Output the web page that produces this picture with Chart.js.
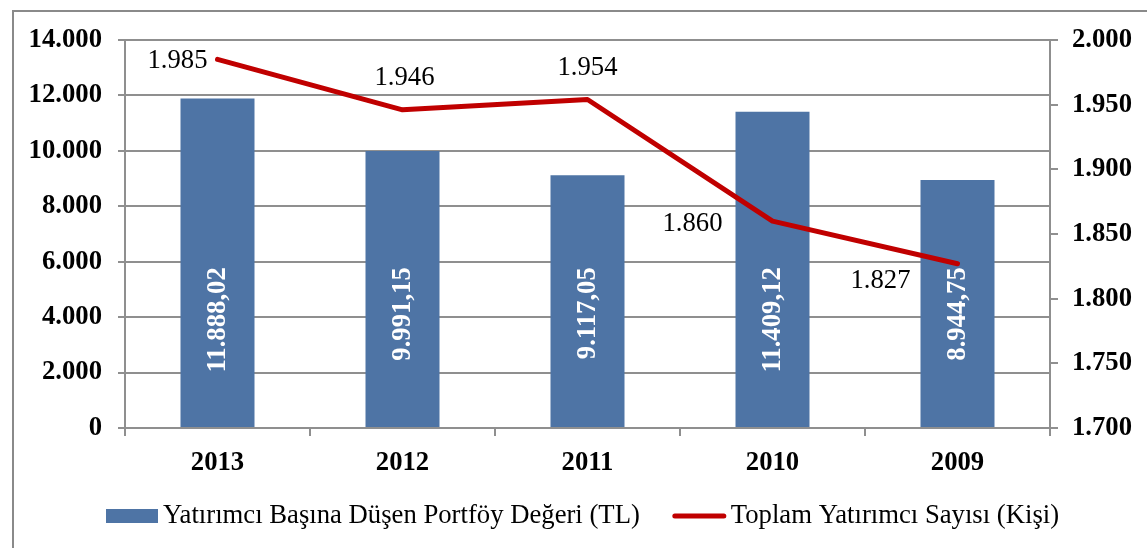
<!DOCTYPE html>
<html>
<head>
<meta charset="utf-8">
<script src="https://cdn.jsdelivr.net/npm/chart.js@4.4.1/dist/chart.umd.min.js"></script>
<style>
  html, body { margin: 0; padding: 0; background: #fff; }
  #wrap { width: 1147px; height: 548px; position: relative; }
</style>
</head>
<body>
<div id="wrap"><canvas id="c"></canvas></div>
<script>
// ---- data ----
const categories = ['2013', '2012', '2011', '2010', '2009'];
const portfolioValues = [11888.02, 9991.15, 9117.05, 11409.12, 8944.75];
const investorCounts = [1985, 1946, 1954, 1860, 1827];
const portfolioLabel = 'Yatırımcı Başına Düşen Portföy Değeri (TL)';
const investorLabel = 'Toplam Yatırımcı Sayısı (Kişi)';
const leftTicks = [0, 2000, 4000, 6000, 8000, 10000, 12000, 14000];
const rightTicks = [1700, 1750, 1800, 1850, 1900, 1950, 2000];

// label placement for the line values (dx, dy, align)
const lineLabelPlacement = [
  { dx: -10, dy: 2, align: 'right' },
  { dx: 2, dy: -32, align: 'center' },
  { dx: 0, dy: -32, align: 'center' },
  { dx: -50, dy: 3, align: 'right' },
  { dx: -47, dy: 17, align: 'right' }
];

const FONT = '"Liberation Serif", "Times New Roman", serif';
const FS = 26.7;
const BAR_COLOR = '#4E74A5';
const LINE_COLOR = '#C00000';
const GRID = '#8f8f8f';

function fmtThousands(v) {
  const s = String(Math.round(v));
  return s.replace(/\B(?=(\d{3})+(?!\d))/g, '.');
}
function fmtDecimal(v) {
  const parts = v.toFixed(2).split('.');
  return fmtThousands(Number(parts[0])) + ',' + parts[1];
}

const labelsPlugin = {
  id: 'customLabels',
  beforeDraw(chart) {
    const ctx = chart.ctx;
    ctx.save();
    ctx.fillStyle = '#fff';
    ctx.fillRect(0, 0, chart.width, chart.height);
    ctx.strokeStyle = '#8a8a8a';
    ctx.lineWidth = 2;
    ctx.strokeRect(13, 11, 1300, 700);
    ctx.restore();
  },
  afterDatasetsDraw(chart) {
    const ctx = chart.ctx;
    const y = chart.scales.y;
    // bar value labels
    const barMeta = chart.getDatasetMeta(0);
    ctx.save();
    ctx.fillStyle = '#fff';
    ctx.font = 'bold ' + FS + 'px ' + FONT;
    ctx.textBaseline = 'middle';
    ctx.textAlign = 'right';
    barMeta.data.forEach((bar, i) => {
      const py = y.getPixelForValue(5800);
      ctx.save();
      ctx.translate(bar.x + 1, py);
      ctx.rotate(-Math.PI / 2);
      ctx.fillText(fmtDecimal(portfolioValues[i]), 0, 0);
      ctx.restore();
    });
    ctx.restore();
    // line value labels
    const lineMeta = chart.getDatasetMeta(1);
    ctx.save();
    ctx.fillStyle = '#000';
    ctx.font = FS + 'px ' + FONT;
    ctx.textBaseline = 'middle';
    lineMeta.data.forEach((pt, i) => {
      const p = lineLabelPlacement[i];
      ctx.textAlign = p.align;
      ctx.fillText(fmtThousands(investorCounts[i]), pt.x + p.dx, pt.y + p.dy);
    });
    ctx.restore();
  },
  afterDraw(chart) {
    const ctx = chart.ctx;
    ctx.save();
    ctx.font = FS + 'px ' + FONT;
    ctx.textBaseline = 'middle';
    ctx.textAlign = 'left';
    const ly = 516;
    let x = 106;
    ctx.fillStyle = BAR_COLOR;
    ctx.fillRect(x, ly - 7, 52, 14);
    x += 57;
    ctx.fillStyle = '#000';
    ctx.fillText(chart.data.datasets[0].label, x, ly);
    x += ctx.measureText(chart.data.datasets[0].label).width + 33;
    ctx.strokeStyle = LINE_COLOR;
    ctx.lineWidth = 5;
    ctx.lineCap = 'round';
    ctx.beginPath();
    ctx.moveTo(x + 2, ly);
    ctx.lineTo(x + 51, ly);
    ctx.stroke();
    x += 58;
    ctx.fillText(chart.data.datasets[1].label, x, ly);
    ctx.restore();
  }
};

new Chart(document.getElementById('c'), {
  data: {
    labels: categories,
    datasets: [
      {
        type: 'bar',
        label: portfolioLabel,
        data: portfolioValues,
        backgroundColor: BAR_COLOR,
        borderWidth: 0,
        categoryPercentage: 1.0,
        barPercentage: 0.4,
        yAxisID: 'y',
        order: 1
      },
      {
        type: 'line',
        label: investorLabel,
        data: investorCounts,
        borderColor: LINE_COLOR,
        backgroundColor: LINE_COLOR,
        borderWidth: 5,
        pointRadius: 0,
        tension: 0,
        borderJoinStyle: 'round',
        borderCapStyle: 'round',
        yAxisID: 'y1',
        order: 0
      }
    ]
  },
  options: {
    responsive: true,
    maintainAspectRatio: false,
    animation: false,
    layout: { padding: { top: 40, left: 0, right: 0, bottom: 65 } },
    plugins: {
      legend: { display: false },
      tooltip: { enabled: false }
    },
    scales: {
      x: {
        offset: true,
        grid: {
          offset: true,
          drawOnChartArea: false,
          drawTicks: true,
          tickLength: 8,
          color: GRID,
          lineWidth: 2
        },
        border: { color: GRID, width: 2 },
        ticks: {
          color: '#000',
          font: { family: FONT, size: FS, weight: 'bold' },
          padding: 11,
          maxRotation: 0
        },
        afterFit(s) { s.height = 55; }
      },
      y: {
        position: 'left',
        min: 0,
        max: 14000,
        afterBuildTicks(s) { s.ticks = leftTicks.map(v => ({ value: v })); },
        grid: {
          color: GRID,
          lineWidth: 2,
          drawTicks: true,
          tickLength: 7
        },
        border: { color: GRID, width: 2 },
        ticks: {
          color: '#000',
          font: { family: FONT, size: FS, weight: 'bold' },
          padding: 16,
          callback: v => fmtThousands(v)
        },
        afterFit(s) { s.width = 125; }
      },
      y1: {
        position: 'right',
        min: 1700,
        max: 2000,
        afterBuildTicks(s) { s.ticks = rightTicks.map(v => ({ value: v })); },
        grid: {
          drawOnChartArea: false,
          color: GRID,
          lineWidth: 2,
          drawTicks: true,
          tickLength: 8
        },
        border: { color: GRID, width: 2 },
        ticks: {
          color: '#000',
          font: { family: FONT, size: FS, weight: 'bold' },
          padding: 14,
          callback: v => fmtThousands(v)
        },
        afterFit(s) { s.width = 97; }
      }
    }
  },
  plugins: [labelsPlugin]
});
</script>
</body>
</html>
